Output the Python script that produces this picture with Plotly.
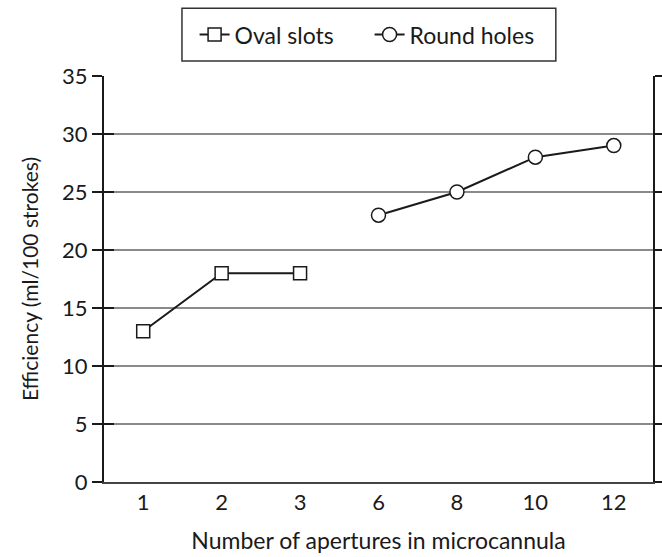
import plotly.graph_objects as go

# Apertures (category labels on the x axis) and measured efficiency
categories = ["1", "2", "3", "6", "8", "10", "12"]
oval_x = ["1", "2", "3"]
oval_y = [13, 18, 18]
round_x = ["6", "8", "10", "12"]
round_y = [23, 25, 28, 29]
y_ticks = [0, 5, 10, 15, 20, 25, 30, 35]

FONT = "Lato"
INK = "#1a1a1a"

fig = go.Figure()
fig.add_trace(go.Scatter(
    x=oval_x, y=oval_y, name="Oval slots", mode="lines+markers",
    line=dict(color=INK, width=2),
    marker=dict(symbol="square", size=13, color="white",
                line=dict(color=INK, width=1.5)),
))
fig.add_trace(go.Scatter(
    x=round_x, y=round_y, name="Round holes", mode="lines+markers",
    line=dict(color=INK, width=2),
    marker=dict(symbol="circle", size=14, color="white",
                line=dict(color=INK, width=1.5)),
))
# invisible trace that carries the inward half of the y ticks
fig.add_trace(go.Scatter(x=[categories[0]], y=[0], yaxis="y2", mode="markers",
                         marker=dict(opacity=0), showlegend=False, hoverinfo="skip"))

# framed box around the legend
fig.add_shape(type="rect", xref="paper", yref="paper",
              x0=0.142, x1=0.823, y0=1.037, y1=1.167,
              line=dict(color="#333", width=1.5), fillcolor="white", layer="below")

fig.update_layout(
    width=662, height=557,
    margin=dict(l=104, r=9, t=76, b=75, autoexpand=False),
    paper_bgcolor="white", plot_bgcolor="white",
    font=dict(family=FONT, size=22, color=INK),
    showlegend=True,
    legend=dict(
        orientation="h", x=0.165, xanchor="left", y=1.102, yanchor="middle",
        borderwidth=0, bgcolor="rgba(0,0,0,0)",
        font=dict(size=23), itemwidth=30, entrywidth=130,
    ),
    xaxis=dict(
        type="category", categoryorder="array", categoryarray=categories,
        range=[-0.5, 6.5], showline=True, linecolor="#444", linewidth=2,
        ticks="", showgrid=False, tickfont=dict(size=22), automargin=False,
        title=dict(text="Number of apertures in microcannula", font=dict(size=23), standoff=18),
        zeroline=False, fixedrange=True,
    ),
    yaxis=dict(
        range=[0, 35], tickvals=y_ticks, showline=True, linecolor=INK, linewidth=2,
        mirror="ticks", ticks="outside", ticklen=10, tickwidth=1.5, tickcolor=INK,
        showgrid=True, gridcolor="#8a8a8a", gridwidth=2, zeroline=False,
        tickfont=dict(size=22), automargin=False,
        title=dict(text="Efficiency (ml/100 strokes)", font=dict(size=21), standoff=18),
    ),
    yaxis2=dict(
        overlaying="y", range=[0, 35], tickvals=y_ticks, ticks="inside",
        ticklen=10, tickwidth=1.5, tickcolor=INK, showticklabels=False,
        showgrid=False, zeroline=False, showline=False, automargin=False,
    ),
)

fig.write_html("out.html")
